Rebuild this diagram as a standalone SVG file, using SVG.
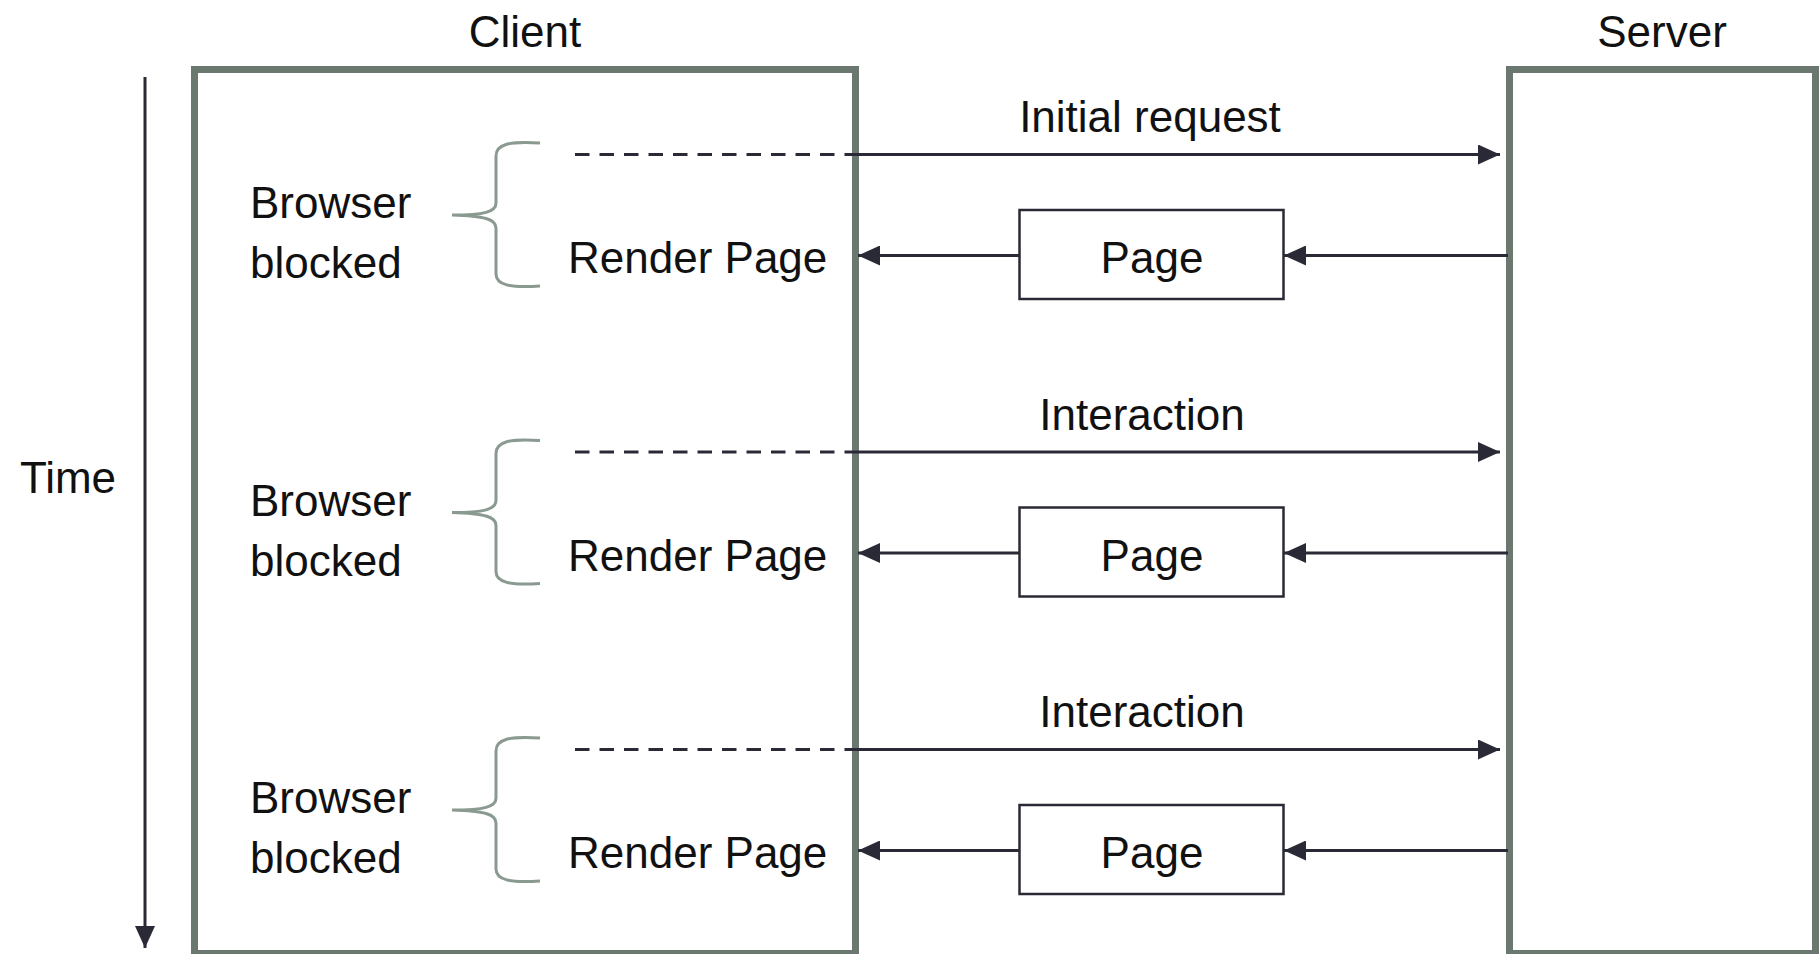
<svg xmlns="http://www.w3.org/2000/svg" width="1820" height="954" viewBox="0 0 1820 954">
  <style>
    text { font-family: "Liberation Sans", Arial, sans-serif; font-size: 44px; fill: #111; }
    .lane { fill: none; stroke: #6b786f; stroke-width: 7; }
    .msg { fill: none; stroke: #2a2a36; stroke-width: 3; }
    .dash { fill: none; stroke: #2a2a36; stroke-width: 3; stroke-dasharray: 14.5 10; }
    .brace { fill: none; stroke: #8a9a90; stroke-width: 3; }
    .pagebox { fill: #fff; stroke: #2a2a36; stroke-width: 2.5; }
  </style>
  <defs>
    <marker id="arrow" viewBox="0 0 22 20" refX="22" refY="10" markerWidth="22" markerHeight="20" markerUnits="userSpaceOnUse" orient="auto">
      <path d="M0,0 L22,10 L0,20 Z" fill="#2a2a36"/>
    </marker>
    <g id="brace-shape">
      <path class="brace" d="M540,143 C510,141 496,144 496,156 L496,203 C496,212 484,215 452,215 C484,216 496,219 496,228 L496,274 C496,285 510,288 540,286"/>
    </g>
  </defs>
  <rect width="1820" height="954" fill="#fff"/>

  <!-- swimlanes -->
  <g id="client">
    <rect class="lane" x="194.5" y="69.5" width="661" height="884"/>
    <text x="525" y="47" text-anchor="middle">Client</text>
  </g>
  <g id="server">
    <rect class="lane" x="1509.5" y="69.5" width="306" height="884"/>
    <text x="1662" y="47" text-anchor="middle">Server</text>
  </g>

  <!-- time axis -->
  <g id="time">
    <line class="msg" x1="145" y1="77" x2="145" y2="948" stroke-width="2.5" marker-end="url(#arrow)"/>
    <text x="68" y="493" text-anchor="middle">Time</text>
  </g>

  <!-- blocked intervals on the client -->
  <g id="blocked-1">
    <use href="#brace-shape"/>
    <text x="250" y="218">Browser</text>
    <text x="250" y="278">blocked</text>
    <text x="568" y="273">Render Page</text>
  </g>
  <g id="blocked-2" transform="translate(0,297.5)">
    <use href="#brace-shape"/>
    <text x="250" y="218">Browser</text>
    <text x="250" y="278">blocked</text>
    <text x="568" y="273">Render Page</text>
  </g>
  <g id="blocked-3" transform="translate(0,595)">
    <use href="#brace-shape"/>
    <text x="250" y="218">Browser</text>
    <text x="250" y="278">blocked</text>
    <text x="568" y="273">Render Page</text>
  </g>

  <!-- page responses -->
  <g id="page-1">
    <rect class="pagebox" x="1019.5" y="210" width="264" height="89"/>
    <text x="1152" y="273" text-anchor="middle">Page</text>
  </g>
  <g id="page-2" transform="translate(0,297.5)">
    <rect class="pagebox" x="1019.5" y="210" width="264" height="89"/>
    <text x="1152" y="273" text-anchor="middle">Page</text>
  </g>
  <g id="page-3" transform="translate(0,595)">
    <rect class="pagebox" x="1019.5" y="210" width="264" height="89"/>
    <text x="1152" y="273" text-anchor="middle">Page</text>
  </g>

  <!-- requests and responses -->
  <g id="connectors">
    <g id="exchange-1">
      <line class="dash" x1="575" y1="154.5" x2="855" y2="154.5"/>
      <line class="msg" x1="855" y1="154.5" x2="1500" y2="154.5" marker-end="url(#arrow)"/>
      <text x="1150" y="132" text-anchor="middle">Initial request</text>
      <line class="msg" x1="1508" y1="255.5" x2="1284" y2="255.5" marker-end="url(#arrow)"/>
      <line class="msg" x1="1019" y1="255.5" x2="858" y2="255.5" marker-end="url(#arrow)"/>
    </g>
    <g id="exchange-2" transform="translate(0,297.5)">
      <line class="dash" x1="575" y1="154.5" x2="855" y2="154.5"/>
      <line class="msg" x1="855" y1="154.5" x2="1500" y2="154.5" marker-end="url(#arrow)"/>
      <text x="1142" y="132" text-anchor="middle">Interaction</text>
      <line class="msg" x1="1508" y1="255.5" x2="1284" y2="255.5" marker-end="url(#arrow)"/>
      <line class="msg" x1="1019" y1="255.5" x2="858" y2="255.5" marker-end="url(#arrow)"/>
    </g>
    <g id="exchange-3" transform="translate(0,595)">
      <line class="dash" x1="575" y1="154.5" x2="855" y2="154.5"/>
      <line class="msg" x1="855" y1="154.5" x2="1500" y2="154.5" marker-end="url(#arrow)"/>
      <text x="1142" y="132" text-anchor="middle">Interaction</text>
      <line class="msg" x1="1508" y1="255.5" x2="1284" y2="255.5" marker-end="url(#arrow)"/>
      <line class="msg" x1="1019" y1="255.5" x2="858" y2="255.5" marker-end="url(#arrow)"/>
    </g>
  </g>
</svg>
